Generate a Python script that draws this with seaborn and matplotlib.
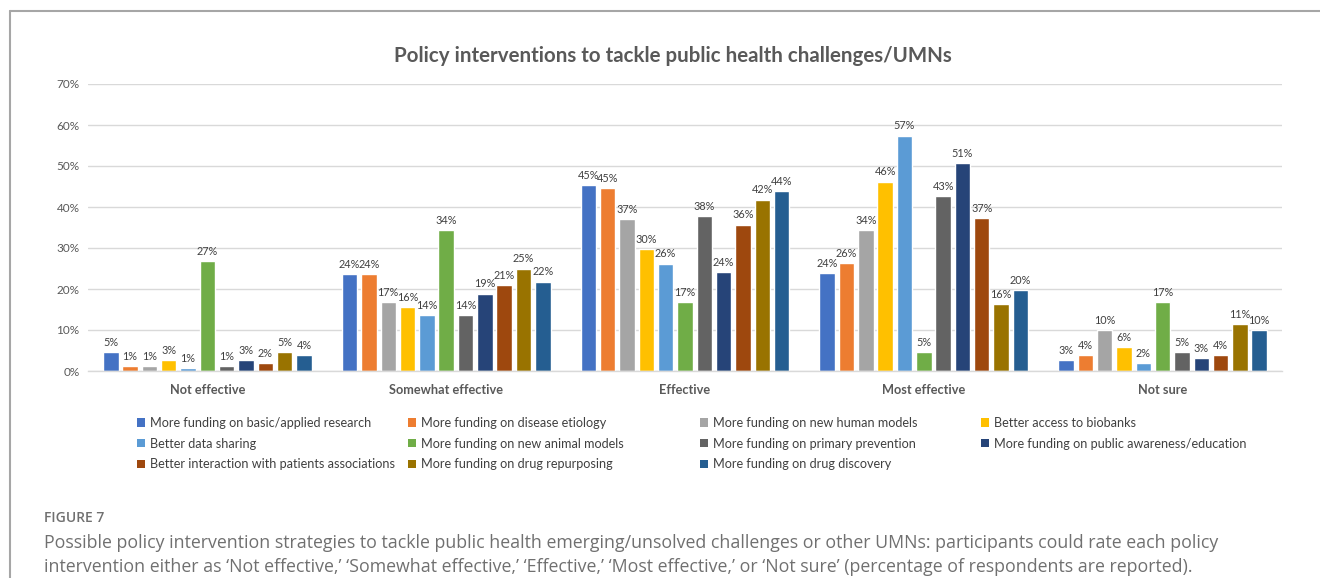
import matplotlib
matplotlib.use("Agg")
import matplotlib.pyplot as plt
import seaborn as sns
import pandas as pd
from matplotlib.patches import Patch
from matplotlib.lines import Line2D

categories = ["Not effective", "Somewhat effective", "Effective", "Most effective", "Not sure"]
series = [
    "More funding on basic/applied research",
    "More funding on disease etiology",
    "More funding on new human models",
    "Better access to biobanks",
    "Better data sharing",
    "More funding on new animal models",
    "More funding on primary prevention",
    "More funding on public awareness/education",
    "Better interaction with patients associations",
    "More funding on drug repurposing",
    "More funding on drug discovery",
]
not_effective = [4.7, 1.2, 1.2, 2.7, 0.7, 26.9, 1.2, 2.7, 1.9, 4.6, 3.9]
somewhat_effective = [23.6, 23.6, 16.9, 15.6, 13.6, 34.4, 13.6, 18.9, 21.0, 25.0, 21.8]
effective = [45.3, 44.6, 37.0, 29.7, 26.2, 16.8, 37.7, 24.2, 35.7, 41.8, 43.9]
most_effective = [23.8, 26.4, 34.4, 46.2, 57.4, 4.7, 42.7, 50.8, 37.3, 16.3, 19.7]
not_sure = [2.6, 3.9, 10.0, 5.9, 1.9, 16.8, 4.6, 3.2, 3.9, 11.4, 10.0]
yticks = [0, 10, 20, 30, 40, 50, 60, 70]

colors = ["#4472C4", "#ED7D31", "#A5A5A5", "#FFC000", "#5B9BD5", "#70AD47",
          "#636363", "#264478", "#9E480E", "#997300", "#255E91"]

values = [not_effective, somewhat_effective, effective, most_effective, not_sure]
rows = []
for cat, vals in zip(categories, values):
    for s, v in zip(series, vals):
        rows.append({"Rating": cat, "Intervention": s, "Percent": v})
df = pd.DataFrame(rows)

sns.set_theme(style="white")
plt.rcParams["font.family"] = ["Lato", "DejaVu Sans"]

fig = plt.figure(figsize=(13.2, 5.78), dpi=100)
ax = fig.add_axes([88 / 1320, (578 - 371) / 578, (1282 - 88) / 1320, (371 - 84) / 578])

sns.barplot(data=df, x="Rating", y="Percent", hue="Intervention", order=categories,
            hue_order=series, palette=colors, width=0.89, gap=0.2, saturation=1,
            legend=False, ax=ax, errorbar=None)

for cont in ax.containers:
    ax.bar_label(cont, labels=[f"{round(b.get_height())}%" for b in cont],
                 padding=3, fontsize=7.8, color="#404040")

ax.set_ylim(0, 70)
ax.set_xlim(-0.5, 4.5)
ax.set_yticks(yticks)
ax.set_yticklabels([f"{t}%" for t in yticks], fontsize=8.5, color="#595959")
ax.yaxis.grid(True, color="#D9D9D9", linewidth=1)
ax.set_axisbelow(True)
for s in ["top", "right", "left"]:
    ax.spines[s].set_visible(False)
ax.spines["bottom"].set_color("#D9D9D9")
ax.spines["bottom"].set_linewidth(1)
ax.tick_params(axis="y", length=0, pad=6)
ax.tick_params(axis="x", length=0, pad=9)
ax.set_xlabel("")
ax.set_ylabel("")
for lbl in ax.get_xticklabels():
    lbl.set_fontweight("bold")
    lbl.set_fontsize(9.2)
    lbl.set_color("#595959")

fig.text(673 / 1320, 1 - 56 / 578, "Policy interventions to tackle public health challenges/UMNs",
         ha="center", va="center", fontsize=14.8, fontweight="bold", color="#595959")

# Legend: 4 columns, row-major ordering
col_x = [137, 408, 700, 981]
for c in range(4):
    idx = list(range(c, len(series), 4))
    handles = [Patch(facecolor=colors[i], edgecolor="none") for i in idx]
    labels = [series[i] for i in idx]
    fig.legend(handles, labels, loc="upper left",
               bbox_to_anchor=(col_x[c] / 1320, 1 - 417 / 578),
               frameon=False, fontsize=9.1, handlelength=0.65, handleheight=0.65,
               handletextpad=0.4, labelspacing=0.68, borderpad=0, borderaxespad=0,
               labelcolor="#404040")

# Page frame lines
fig.add_artist(Line2D([9.5 / 1320, 1], [1 - 11 / 578, 1 - 11 / 578], transform=fig.transFigure,
                      color="#A6A6A6", linewidth=1.5))
fig.add_artist(Line2D([9.5 / 1320, 9.5 / 1320], [0, 1 - 11 / 578], transform=fig.transFigure,
                      color="#A6A6A6", linewidth=1.5))

fig.text(44 / 1320, 1 - 518 / 578, "FIGURE 7", ha="left", va="center", fontsize=10,
         color="#707070", family=["Open Sans", "DejaVu Sans"], fontweight="semibold")
fig.text(44 / 1320, 1 - 543 / 578,
         "Possible policy intervention strategies to tackle public health emerging/unsolved challenges or other UMNs: participants could rate each policy",
         ha="left", va="center", fontsize=12.8, color="#707070", family=["Open Sans", "DejaVu Sans"])
fig.text(44 / 1320, 1 - 567 / 578,
         "intervention either as \u2018Not effective,\u2019 \u2018Somewhat effective,\u2019 \u2018Effective,\u2019 \u2018Most effective,\u2019 or \u2018Not sure\u2019 (percentage of respondents are reported).",
         ha="left", va="center", fontsize=12.8, color="#707070", family=["Open Sans", "DejaVu Sans"])

fig.savefig("out.png", dpi=100, facecolor="white")
